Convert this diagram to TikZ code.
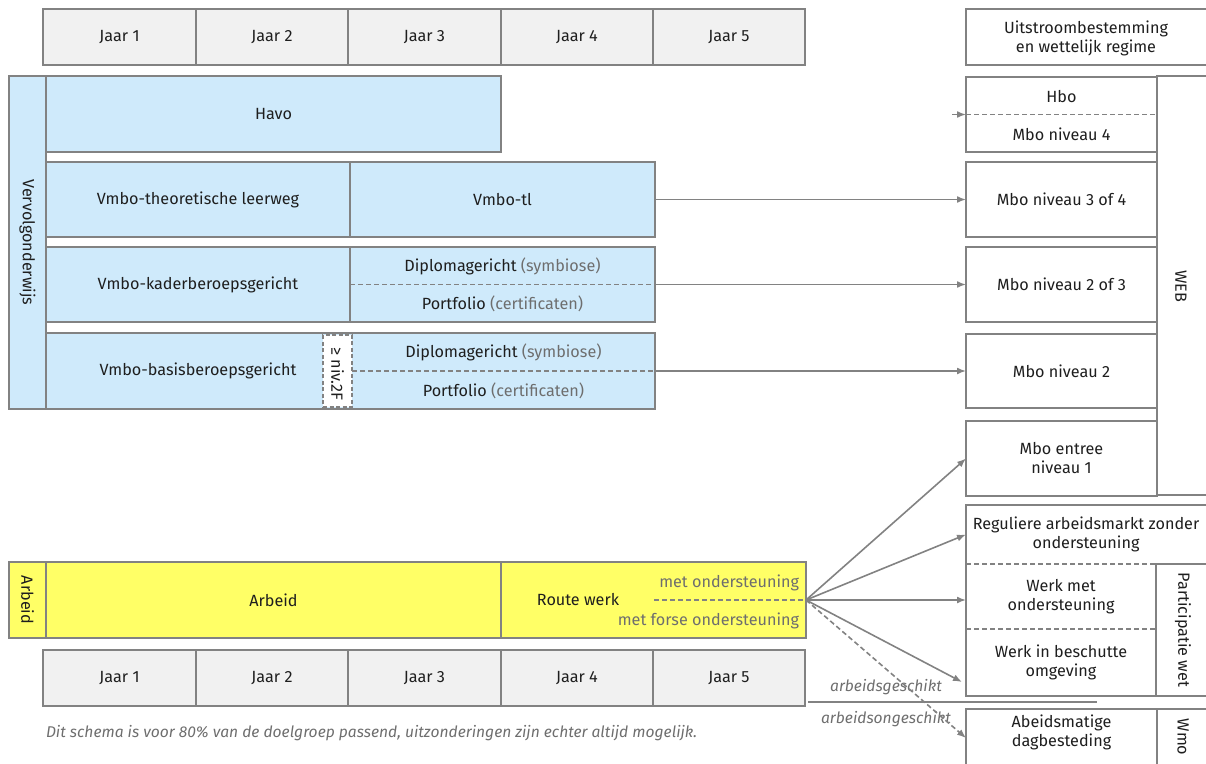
\documentclass[tikz,border=0pt]{standalone}
\usepackage{fontspec}
\setmainfont{Fira Sans}
\usetikzlibrary{arrows.meta,calc}
\definecolor{bord}{HTML}{828282}
\definecolor{lblue}{HTML}{CFEAFB}
\definecolor{ylw}{HTML}{FFFF66}
\definecolor{jaarc}{HTML}{F1F1F1}
\definecolor{txt}{HTML}{1E1E1E}
\definecolor{gtxt}{HTML}{6E6E6E}
\newcommand\Bx[7]{\node[#6, minimum width={(#4-#2)*1pt}, minimum height={(#5-#3)*1pt}] (#1) at ({(#2+#4)/2},{(#3+#5)/2}) {#7};}
\tikzset{
 base/.style={rectangle, inner sep=0pt, outer sep=0pt, align=center, text=txt, font=\fontsize{16.2}{19}\selectfont},
 box/.style={base, draw=bord, line width=1.6pt},
 jbox/.style={box, fill=jaarc},
 bbox/.style={box, fill=lblue},
 ybox/.style={box, fill=ylw},
 wbox/.style={box, fill=white},
 area/.style={base},
 rot/.style={base, rotate=-90},
 lbl/.style={base},
 glbl/.style={base, text=gtxt},
 ilbl/.style={base, text=gtxt, font=\fontsize{15.6}{18}\selectfont\itshape},
 dline/.style={draw=bord, line width=1.5pt, dash pattern=on 5pt off 3pt},
 sline/.style={draw=bord, line width=1.6pt},
 conn/.style={draw=bord, line width=1.6pt, -{Latex[length=9pt,width=7pt]}},
 dconn/.style={conn, dash pattern=on 5pt off 3pt},
}
\begin{document}
\begin{tikzpicture}[x=1pt,y=-1pt]
\useasboundingbox (0,0) rectangle (1206,763);
% top year row
\Bx{ja1}{43}{9}{196}{65}{jbox}{Jaar 1}
\Bx{ja2}{196}{9}{348}{65}{jbox}{Jaar 2}
\Bx{ja3}{348}{9}{501}{65}{jbox}{Jaar 3}
\Bx{ja4}{501}{9}{653}{65}{jbox}{Jaar 4}
\Bx{ja5}{653}{9}{805}{65}{jbox}{Jaar 5}
\Bx{uit}{966}{9}{1212}{65}{wbox}{}
\node[lbl] (uitt) at (1086,38) {Uitstroombestemming\\en wettelijk regime};
% Vervolgonderwijs
\Bx{vv}{9}{76}{46}{409}{bbox}{}
\node[rot] (vvt) at (vv.center) {Vervolgonderwijs};
\Bx{havo}{46}{76}{501}{152}{bbox}{Havo}
\Bx{tl}{46}{162}{350}{237}{bbox}{Vmbo-theoretische leerweg}
\Bx{tlr}{350}{162}{655}{237}{bbox}{Vmbo-tl}
\Bx{kl}{46}{247}{350}{322}{bbox}{Vmbo-kaderberoepsgericht}
\Bx{kr}{350}{247}{655}{322}{bbox}{}
\draw[dline] (kr.west) -- (kr.east);
\node[lbl] (kr1) at ($(kr.center)+(0,-18.5)$) {Diplomagericht \textcolor{gtxt}{(symbiose)}};
\node[lbl] (kr2) at ($(kr.center)+(0,19.5)$) {Portfolio \textcolor{gtxt}{(certificaten)}};
\Bx{bl}{46}{333}{655}{409}{bbox}{}
\Bx{br}{352}{333}{655}{409}{area}{}
\node[lbl] (blt) at (198,371) {Vmbo-basisberoepsgericht};
\draw[dline] (br.west) -- (br.east);
\node[lbl] (br1) at ($(br.center)+(0,-18.5)$) {Diplomagericht \textcolor{gtxt}{(symbiose)}};
\node[lbl] (br2) at ($(br.center)+(0,19.5)$) {Portfolio \textcolor{gtxt}{(certificaten)}};
\Bx{niv}{323}{335}{352}{407}{wbox, line width=1.4pt, dash pattern=on 4pt off 2.5pt}{}
\node[rot] (nivt) at (337.5,374) {≥ niv.2F};
% right column
\Bx{web}{1157}{76}{1212}{495}{wbox}{}
\node[rot] (webt) at (1181,286) {WEB};
\Bx{hm}{966}{77}{1157}{152}{wbox}{}
\draw[dline] (hm.west) -- (hm.east);
\node[lbl] (hbo) at ($(hm.center)+(0,-18)$) {Hbo};
\node[lbl] (m4) at ($(hm.center)+(0,20)$) {Mbo niveau 4};
\coordinate (stub) at (952,114.5);
\draw[conn] (stub) -- (hm.west);
\Bx{m34}{966}{162}{1157}{237}{wbox}{Mbo niveau 3 of 4}
\Bx{m23}{966}{247}{1157}{322}{wbox}{Mbo niveau 2 of 3}
\Bx{m2}{966}{334}{1157}{408}{wbox}{Mbo niveau 2}
\Bx{me}{966}{421}{1157}{496}{wbox}{Mbo entree\\niveau 1}
\draw[conn] (tlr.east) -- (m34.west);
\draw[conn] (kr.east) -- (m23.west);
\draw[conn] (br.east) -- (m2.west);
% Arbeid
\Bx{arb}{9}{562}{46}{638}{ybox}{}
\node[rot] (arbt) at (arb.center) {Arbeid};
\Bx{arbm}{46}{562}{501}{638}{ybox}{Arbeid}
\Bx{rw}{501}{562}{806}{638}{ybox}{}
\node[lbl] (rwt) at (578,600) {Route werk};
\coordinate (rwd) at (654,600);
\draw[dline] (rwd) -- (rw.east);
\node[glbl, anchor=east] (mo) at (799,583) {met ondersteuning};
\node[glbl, anchor=east] (mfo) at (799,621) {met forse ondersteuning};
% bottom year row
\Bx{jb1}{43}{650}{196}{706}{jbox}{Jaar 1}
\Bx{jb2}{196}{650}{348}{706}{jbox}{Jaar 2}
\Bx{jb3}{348}{650}{501}{706}{jbox}{Jaar 3}
\Bx{jb4}{501}{650}{653}{706}{jbox}{Jaar 4}
\Bx{jb5}{653}{650}{805}{706}{jbox}{Jaar 5}
% right lower
\Bx{pw}{966}{505}{1212}{696}{wbox}{}
\Bx{reg}{966}{505}{1206}{564}{area}{Reguliere arbeidsmarkt zonder\\ondersteuning}
\Bx{wmo}{966}{564}{1156}{629}{area}{Werk met\\ondersteuning}
\Bx{wib}{966}{629}{1156}{696}{area}{Werk in beschutte\\omgeving}
\Bx{pwb}{1156}{564}{1212}{696}{wbox}{}
\node[rot] (pwt) at (1183,630) {Participatie wet};
\draw[dline] (wmo.north west) -- (wmo.north east);
\draw[dline] (wib.north west) -- (wib.north east);
\Bx{ab}{966}{709}{1157}{775}{wbox}{}
\node[lbl] (abt) at (1061.5,732) {Abeidsmatige\\dagbesteding};
\Bx{wmob}{1157}{709}{1212}{775}{wbox}{}
\node[rot] (wmot) at (1183,737) {Wmo};
% separator
\coordinate (sepL) at (808,702);
\coordinate (sepR) at (1097,702);
\draw[sline] (sepL) -- (sepR);
\node[ilbl] (ag) at (886,687) {arbeidsgeschikt};
\node[ilbl] (aog) at (886,719) {arbeidsongeschikt};
% fan arrows
\draw[conn] (rw.east) -- (me.west);
\draw[conn] (rw.east) -- (reg.west);
\draw[conn] (rw.east) -- (rw.east -| wmo.west);
\draw[conn] (rw.east) -- ($(wib.south west)+(-4,-14)$);
\draw[dconn] (rw.east) -- ($(ab.north west)+(0,29)$);
% footnote
\node[ilbl, anchor=west, font=\fontsize{15.6}{18}\selectfont\itshape] (fn) at (46,733) {Dit schema is voor 80\% van de doelgroep passend, uitzonderingen zijn echter altijd mogelijk.};
\end{tikzpicture}
\end{document}
